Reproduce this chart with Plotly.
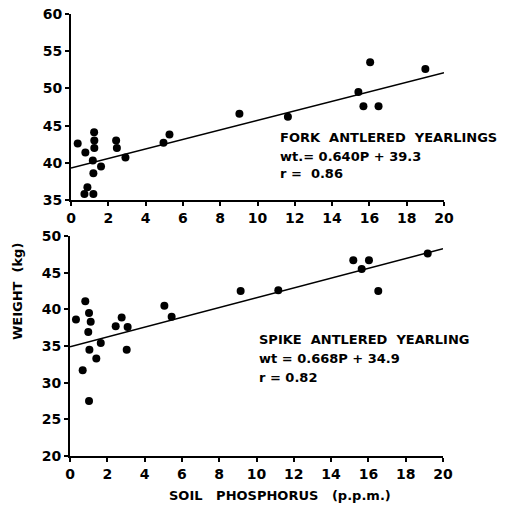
import plotly.graph_objects as go

# Fork antlered yearlings (top panel)
fork_p = [0.36, 0.77, 1.24, 1.25, 1.25, 1.17, 1.2, 1.61, 0.88, 0.72, 1.2,
          2.42, 2.46, 2.92, 4.96, 5.28, 9.03, 11.63, 16.04, 15.41, 15.68, 16.49, 19.0]
fork_wt = [42.6, 41.4, 44.1, 43.0, 42.0, 40.3, 38.6, 39.5, 36.7, 35.8, 35.8,
           43.0, 42.0, 40.7, 42.7, 43.8, 46.6, 46.2, 53.5, 49.5, 47.6, 47.6, 52.6]
fork_slope, fork_int = 0.640, 39.3

# Spike antlered yearlings (bottom panel)
spike_p = [0.82, 0.32, 1.02, 1.11, 0.98, 1.04, 1.65, 1.41, 0.68, 1.02,
           2.45, 2.77, 3.09, 3.04, 5.06, 5.45, 9.15, 11.17, 15.19, 16.03, 15.64, 19.18, 16.53]
spike_wt = [41.1, 38.6, 39.5, 38.3, 36.9, 34.5, 35.4, 33.3, 31.7, 27.5,
            37.7, 38.9, 37.6, 34.5, 40.5, 39.0, 42.5, 42.6, 46.7, 46.7, 45.5, 47.6, 42.5]
spike_slope, spike_int = 0.668, 34.9

line_x = [0, 20]
x_ticks = [0, 2, 4, 6, 8, 10, 12, 14, 16, 18, 20]

FONT = "DejaVu Sans"
W, H = 507, 505

def px(x):
    return x / W

def py(y):
    return 1 - y / H

fig = go.Figure()

fig.add_trace(go.Scatter(x=fork_p, y=fork_wt, mode="markers",
                         marker=dict(color="black", size=8),
                         xaxis="x", yaxis="y", cliponaxis=False, showlegend=False))
fig.add_trace(go.Scatter(x=line_x, y=[fork_int + fork_slope * v for v in line_x], mode="lines",
                         line=dict(color="black", width=1.6),
                         xaxis="x", yaxis="y", showlegend=False))
fig.add_trace(go.Scatter(x=spike_p, y=spike_wt, mode="markers",
                         marker=dict(color="black", size=8),
                         xaxis="x2", yaxis="y2", cliponaxis=False, showlegend=False))
fig.add_trace(go.Scatter(x=line_x, y=[spike_int + spike_slope * v for v in line_x], mode="lines",
                         line=dict(color="black", width=1.6),
                         xaxis="x2", yaxis="y2", showlegend=False))

axis_common = dict(showgrid=False, zeroline=False, showline=True, linecolor="black",
                   linewidth=2, ticks="outside", ticklen=4, tickwidth=1.5, tickcolor="black",
                   automargin=False,
                   tickfont=dict(family=FONT, size=14, color="black", weight="bold"))

fig.update_layout(
    template="none",
    width=W, height=H,
    margin=dict(l=0, r=0, t=0, b=0, autoexpand=False),
    paper_bgcolor="white", plot_bgcolor="white",
    xaxis=dict(domain=[px(71), px(444)], anchor="y", range=[0, 20], tickvals=x_ticks, **axis_common),
    yaxis=dict(domain=[py(200), py(14)], anchor="x", range=[35, 60], dtick=5, **axis_common),
    xaxis2=dict(domain=[px(70), px(443)], anchor="y2", range=[0, 20], tickvals=x_ticks, **axis_common),
    yaxis2=dict(domain=[py(456), py(236)], anchor="x2", range=[20, 50], dtick=5, **axis_common),
)

ann_font = dict(family=FONT, size=13, color="black", weight="bold")
texts = [
    ("FORK  ANTLERED  YEARLINGS", 278, 137),
    ("wt.= 0.640P + 39.3", 278, 156),
    ("r =  0.86", 278, 173),
    ("SPIKE  ANTLERED  YEARLING", 257, 339),
    ("wt = 0.668P + 34.9", 257, 358),
    ("r = 0.82", 257, 377),
]
for t, x, y in texts:
    fig.add_annotation(text=t, x=px(x), y=py(y), xref="paper", yref="paper",
                       xanchor="left", yanchor="middle", showarrow=False, font=ann_font)

fig.add_annotation(text="WEIGHT  (kg)", x=px(17), y=py(292), xref="paper", yref="paper",
                   xanchor="center", yanchor="middle",
                   textangle=-90, showarrow=False, font=ann_font)
fig.add_annotation(text="SOIL   PHOSPHORUS   (p.p.m.)", x=px(280), y=py(495), xref="paper", yref="paper",
                   xanchor="center", yanchor="middle",
                   showarrow=False, font=ann_font)

fig.write_html("out.html", config={"displayModeBar": False},
               post_script="document.body.style.margin='0';")
